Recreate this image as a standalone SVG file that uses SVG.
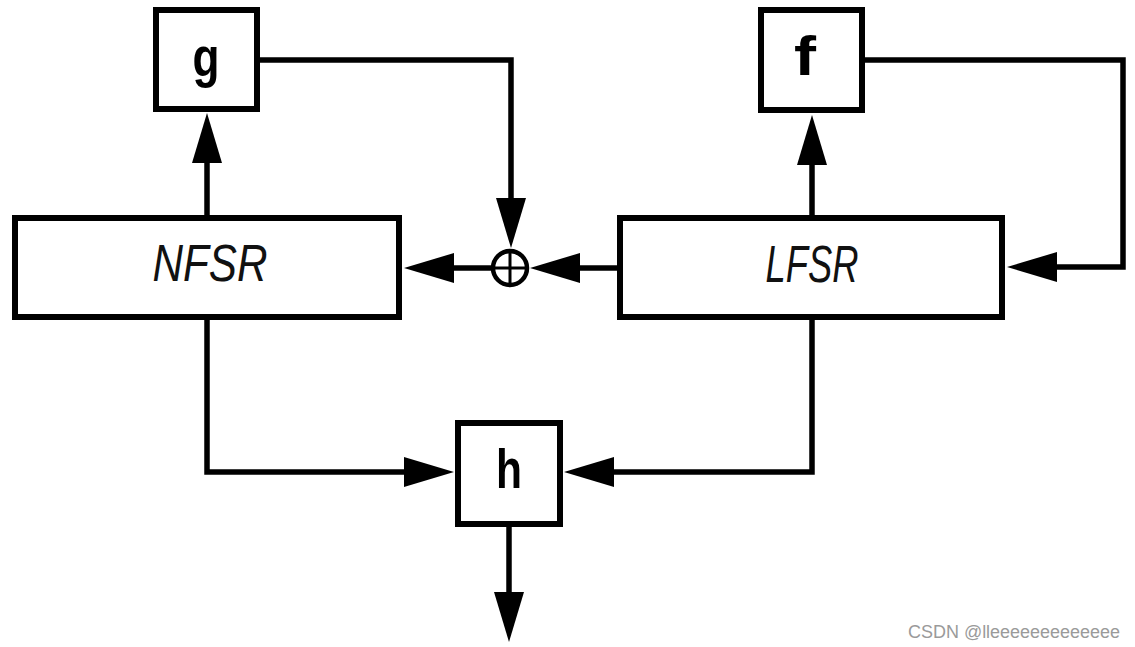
<svg xmlns="http://www.w3.org/2000/svg" width="1135" height="647" viewBox="0 0 1135 647">
  <style>
    .box { fill: #ffffff; stroke: #000000; stroke-width: 6; }
    .wire { fill: none; stroke: #000000; stroke-width: 5.5; stroke-linejoin: miter; }
    .fn { font-family: "Liberation Sans", Arial, sans-serif; font-weight: bold; font-size: 56px; fill: #000000; text-anchor: middle; }
    .reg { font-family: "Liberation Sans", Arial, sans-serif; font-style: italic; font-size: 51px; fill: #111111; text-anchor: middle; }
    .wm { font-family: "Liberation Sans", Arial, sans-serif; font-size: 18px; fill: #9a9a9a; }
  </style>
  <defs>
    <marker id="arrow" viewBox="0 0 50 30" refX="1" refY="15" markerWidth="50" markerHeight="30" markerUnits="userSpaceOnUse" orient="auto">
      <path d="M0,0 L50,15 L0,30 Z" fill="#000000"/>
    </marker>
  </defs>
  <rect width="1135" height="647" fill="#ffffff"/>

  <g id="connectors">
    <path class="wire" d="M207,215 L207,162" marker-end="url(#arrow)"/>
    <path class="wire" d="M812,215 L812,164" marker-end="url(#arrow)"/>
    <path class="wire" d="M260,60 L511,60 L511,199" marker-end="url(#arrow)"/>
    <path class="wire" d="M865,60 L1123,60 L1123,267 L1056,267" marker-end="url(#arrow)"/>
    <path class="wire" d="M617,268 L579,268" marker-end="url(#arrow)"/>
    <path class="wire" d="M491,268 L453,268" marker-end="url(#arrow)"/>
    <path class="wire" d="M207,320 L207,472 L405,472" marker-end="url(#arrow)"/>
    <path class="wire" d="M812,320 L812,472 L613,472" marker-end="url(#arrow)"/>
    <path class="wire" d="M509,527 L509,593" marker-end="url(#arrow)"/>
  </g>

  <g id="node-g">
    <rect class="box" x="156" y="10" width="101" height="99"/>
    <text class="fn" x="206" y="76" textLength="27" lengthAdjust="spacingAndGlyphs">g</text>
  </g>
  <g id="node-f">
    <rect class="box" x="761" y="10" width="101" height="100"/>
    <text class="fn" x="805" y="75" textLength="22" lengthAdjust="spacingAndGlyphs">f</text>
  </g>
  <g id="node-nfsr">
    <rect class="box" x="15" y="218" width="384" height="99"/>
    <text class="reg" x="210" y="281" textLength="115" lengthAdjust="spacingAndGlyphs">NFSR</text>
  </g>
  <g id="node-lfsr">
    <rect class="box" x="620" y="218" width="382" height="99"/>
    <text class="reg" x="812" y="282" textLength="93" lengthAdjust="spacingAndGlyphs">LFSR</text>
  </g>
  <g id="node-xor">
    <circle cx="510" cy="268" r="17" fill="#ffffff" stroke="#000000" stroke-width="4.5"/>
    <line x1="493" y1="268" x2="527" y2="268" stroke="#000000" stroke-width="3"/>
    <line x1="510" y1="251" x2="510" y2="285" stroke="#000000" stroke-width="3"/>
  </g>
  <g id="node-h">
    <rect class="box" x="458" y="423" width="102" height="101"/>
    <text class="fn" x="509" y="488" textLength="26" lengthAdjust="spacingAndGlyphs">h</text>
  </g>

  <text class="wm" x="908" y="638" textLength="212" lengthAdjust="spacingAndGlyphs">CSDN @lleeeeeeeeeeeee</text>
</svg>
